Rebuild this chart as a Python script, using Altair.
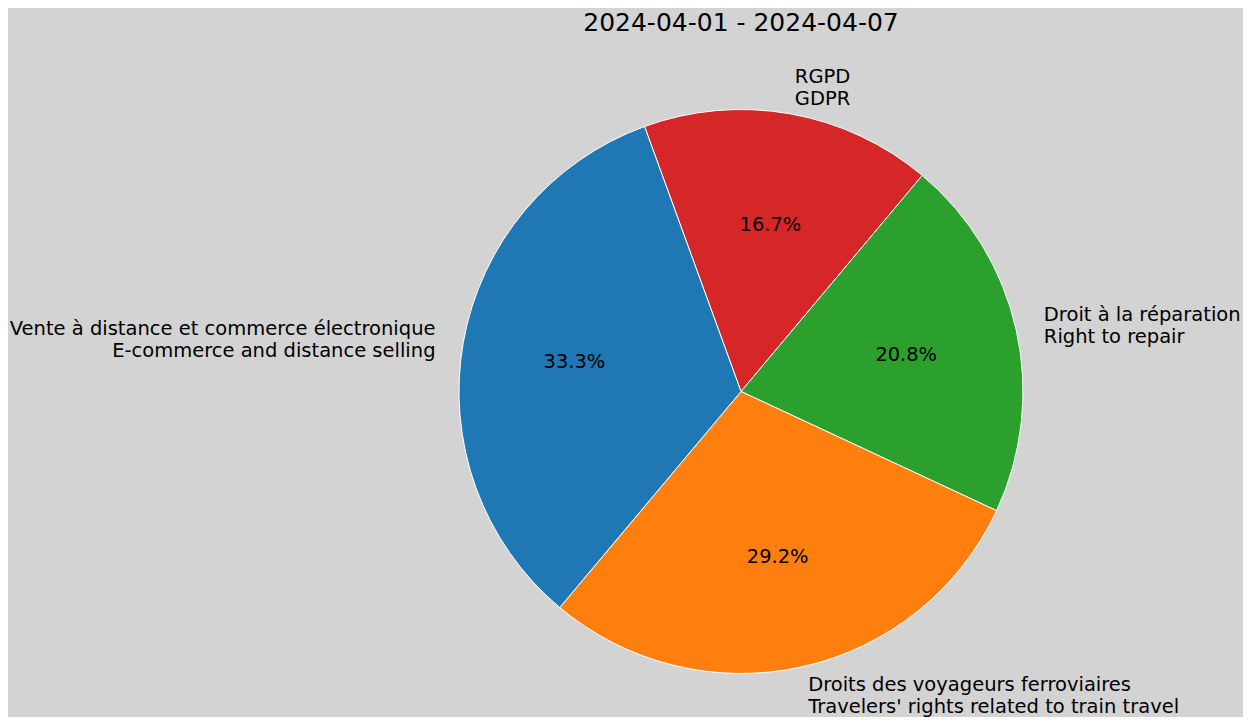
import math
import altair as alt
import pandas as pd

title = "2024-04-01 - 2024-04-07"
labels_fr = ["RGPD", "Droit à la réparation", "Droits des voyageurs ferroviaires",
             "Vente à distance et commerce électronique"]
labels_en = ["GDPR", "Right to repair", "Travelers' rights related to train travel",
             "E-commerce and distance selling"]
counts = [4, 5, 7, 8]
colors = ["#d62728", "#2ca02c", "#ff7f0e", "#1f77b4"]
order = [0, 1, 2, 3]

df = pd.DataFrame({
    "label": [f + "\n" + e for f, e in zip(labels_fr, labels_en)],
    "count": counts,
    "color": colors,
    "order": order,
})

TOTAL = sum(counts)
START = -math.radians(20)  # matplotlib startangle=110 counter-clockwise
theta_scale = alt.Scale(domain=[0, TOTAL], range=[START, START + 2 * math.pi], zero=False, nice=False)
FONT = "DejaVu Sans"
R = 282
LH = 22

base = (
    alt.Chart(df)
    .transform_joinaggregate(total="sum(count)")
    .transform_window(cum="sum(count)", sort=[alt.SortField("order")], frame=[None, 0])
    .transform_calculate(start="datum.cum - datum.count")
    .transform_calculate(mid="datum.cum - datum.count / 2")
    .transform_calculate(pct="format(datum.count / datum.total, '.1%')")
    .transform_calculate(ang=f"{START} + 2 * PI * datum.mid / datum.total")
    .transform_calculate(side="sin(datum.ang) >= 0 ? 'right' : 'left'")
)

arc = base.mark_arc(outerRadius=R, stroke="white", strokeWidth=1).encode(
    theta=alt.Theta("start:Q", scale=theta_scale, stack=None),
    theta2="cum:Q",
    color=alt.Color("color:N", scale=None),
)

pct = base.mark_text(radius=0.6 * R, fontSize=19.4, font=FONT, color="black").encode(
    theta=alt.Theta("mid:Q", scale=theta_scale, stack=None),
    text="pct:N",
)

lab_right = base.transform_filter("datum.side == 'right'").mark_text(
    radius=1.1 * R, align="left", baseline="middle", fontSize=19.5, lineHeight=LH,
    dy=-9, lineBreak="\n", font=FONT, color="black",
).encode(theta=alt.Theta("mid:Q", scale=theta_scale, stack=None), text="label:N")

lab_left = base.transform_filter("datum.side == 'left'").mark_text(
    radius=1.1 * R, align="right", baseline="middle", fontSize=19.5, lineHeight=LH,
    dy=-9, lineBreak="\n", font=FONT, color="black",
).encode(theta=alt.Theta("mid:Q", scale=theta_scale, stack=None), text="label:N")

chart = (
    alt.layer(arc, pct, lab_right, lab_left)
    .properties(
        width=1004,
        height=651,
        padding={"left": 231, "top": 58, "right": 0, "bottom": 0},
        autosize=alt.AutoSizeParams(type="none"),
        background="#d3d3d3",
        title=alt.TitleParams(
            title, fontSize=25, font=FONT, fontWeight="normal", color="black",
            anchor="middle", frame="group", offset=30,
        ),
    )
    .configure_view(stroke=None)
)

chart.save("out.html", embed_options={"renderer": "svg", "actions": False})
